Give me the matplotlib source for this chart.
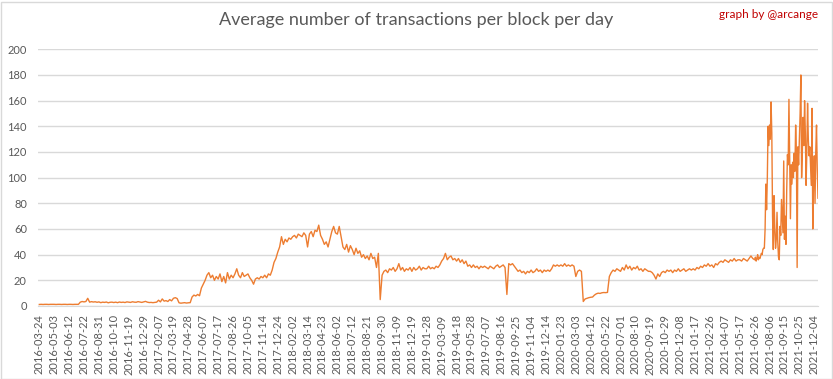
import numpy as np
import matplotlib
matplotlib.use("Agg")
import matplotlib.pyplot as plt
from matplotlib.patches import Rectangle

# valores cada 5 dias desde 2016-03-24 (una fila = 40 dias)
every5 = [
    1.2, 1.3, 1.2, 1.3, 1.3, 1.2, 1.3, 1.3,
    1.3, 1.2, 1.3, 1.3, 1.2, 1.3, 1.3, 1.2,
    1.3, 1.3, 1.2, 1.3, 1.3, 1.3, 3.0, 3.5,
    3.2, 3.5, 6.0, 3.0, 3.4, 3.1, 3.3, 2.9,
    3.2, 2.6, 3.0, 2.8, 3.1, 2.5, 2.9, 3.0,
    2.7, 3.0, 2.6, 3.1, 2.8, 3.0, 2.7, 3.2,
    3.0, 2.8, 3.3, 3.0, 2.9, 3.4, 3.1, 2.8,
    3.2, 3.6, 3.0, 2.7, 2.8, 2.6, 2.8, 3.0,
    4.5, 3.2, 5.5, 3.8, 4.2, 3.5, 5.0, 4.0,
    6.0, 6.5, 5.8, 2.5, 2.2, 2.4, 2.6, 2.3,
    2.5, 2.6, 7.0, 8.5, 7.8, 9.0, 8.0, 14.0,
    17, 20, 24, 26, 22, 24, 20, 23,
    21, 25, 19, 23, 18, 26, 21, 24,
    22, 25, 29, 24, 22, 26, 23, 24,
    25, 22, 20, 17, 21, 22, 21, 23,
    22, 24, 22, 25, 24, 28, 34, 37,
    42, 46, 54, 48, 52, 50, 53, 52,
    54, 55, 53, 56, 55, 54, 57, 55,
    46, 56, 58, 54, 59, 58, 63, 55,
    52, 48, 50, 46, 52, 58, 62, 57,
    56, 62, 54, 46, 44, 48, 42, 47,
    44, 40, 45, 41, 43, 38, 40, 37,
    39, 36, 41, 37, 38, 30, 41, 5,
    24, 27, 28, 26, 29, 28, 30, 27,
    29, 33, 28, 30, 27, 29, 28, 30,
    27, 30, 28, 29, 31, 28, 30, 29,
    29, 31, 29, 30, 29, 31, 30, 32,
    35, 37, 41, 36, 38, 39, 36, 37,
    35, 37, 34, 36, 33, 35, 31, 32,
    30, 32, 30, 31, 29, 31, 30, 31,
    30, 29, 31, 30, 29, 31, 32, 30,
    31, 32, 30, 9, 33, 32, 33, 31,
    29, 27, 28, 26, 27, 25, 27, 26,
    28, 26, 27, 29, 27, 28, 26, 28,
    27, 28, 27, 29, 32, 31, 32, 31,
    32, 31, 33, 31, 32, 31, 32, 31,
    23, 27, 28, 27, 3.5, 5.5, 6.0, 6.5,
    6.8, 7.0, 8.5, 9.5, 10.0, 9.8, 10.3, 10.5,
    10.4, 10.6, 23, 26, 28, 27, 29, 28,
    27, 30, 28, 32, 29, 31, 28, 30,
    29, 31, 28, 29, 27, 29, 28, 27,
    27, 26, 24, 21, 25, 23, 26, 27,
    26, 28, 27, 28, 26, 28, 27, 29,
    27, 28, 29, 27, 28, 29, 28, 29,
    28, 30, 29, 31, 30, 32, 31, 33,
    31, 32, 30, 33, 32, 34, 35, 34,
    36, 35, 34, 36, 35, 37, 35, 36,
    36, 35, 37, 36, 35, 37, 39, 37,
]

# desde 2021-06-26 los valores cada 2 dias
recent = [
    36, 38, 35, 37, 40, 36, 38, 37, 39, 41,
    40, 44, 45, 45, 60, 95, 75, 100, 140, 125,
    141, 130, 159, 135, 70, 44, 86, 60, 45, 52,
    73, 50, 38, 36, 62, 55, 83, 70, 57, 113,
    52, 70, 48, 90, 118, 110, 161, 117, 68, 110,
    95, 112, 100, 119, 105, 141, 120, 30, 124, 110,
    130, 150, 180, 100, 120, 147, 125, 160, 135, 94,
    120, 158, 130, 117, 124, 110, 94, 154, 60, 100,
    117, 80, 120, 141, 107, 84,
]

tick_labels = [
    "2016-03-24", "2016-05-03", "2016-06-12", "2016-07-22", "2016-08-31",
    "2016-10-10", "2016-11-19", "2016-12-29", "2017-02-07", "2017-03-19",
    "2017-04-28", "2017-06-07", "2017-07-17", "2017-08-26", "2017-10-05",
    "2017-11-14", "2017-12-24", "2018-02-02", "2018-03-14", "2018-04-23",
    "2018-06-02", "2018-07-12", "2018-08-21", "2018-09-30", "2018-11-09",
    "2018-12-19", "2019-01-28", "2019-03-09", "2019-04-18", "2019-05-28",
    "2019-07-07", "2019-08-16", "2019-09-25", "2019-11-04", "2019-12-14",
    "2020-01-23", "2020-03-03", "2020-04-12", "2020-05-22", "2020-07-01",
    "2020-08-10", "2020-09-19", "2020-10-29", "2020-12-08", "2021-01-17",
    "2021-02-26", "2021-04-07", "2021-05-17", "2021-06-26", "2021-08-06",
    "2021-09-15", "2021-10-25", "2021-12-04",
]

plt.rcParams["font.family"] = ["Lato", "DejaVu Sans"]
grey = "#595959"

x = np.concatenate([np.arange(len(every5)) * 5,
                    len(every5) * 5 + np.arange(len(recent)) * 2])
y = np.array(every5 + recent, dtype=float)

fig = plt.figure(figsize=(8.33, 3.79), dpi=100)
ax = fig.add_axes([38 / 833, 1 - 306 / 379, 780 / 833, (306 - 49.3) / 379])

ax.plot(x, y, color="#ED7D31", linewidth=1.0)

ax.set_ylim(0, 200)
ax.set_yticks(range(0, 201, 20))
ax.set_xlim(-3.5, 2090)
ax.set_xticks(np.arange(len(tick_labels)) * 40)
ax.set_xticklabels(tick_labels, rotation=90)
ax.tick_params(axis="both", length=0, labelsize=8, colors=grey)
ax.tick_params(axis="y", pad=8)
ax.tick_params(axis="x", pad=6)

ax.grid(axis="y", color="#D9D9D9", linewidth=1)
ax.set_axisbelow(True)
for s in ["top", "right", "left"]:
    ax.spines[s].set_visible(False)
ax.spines["bottom"].set_color("#D9D9D9")

fig.text(0.5, 1 - 20 / 379, "Average number of transactions per block per day",
         ha="center", va="center", fontsize=13, color=grey)
fig.text(818 / 833, 1 - 15 / 379, "graph by @arcange", ha="right", va="center",
         fontsize=8.5, color="#C00000")

# borde del grafico
fig.patches.append(Rectangle((0.5 / 833, 0.5 / 379), 831 / 833, 377 / 379,
                             transform=fig.transFigure, fill=False,
                             edgecolor="#D9D9D9", linewidth=1))

plt.savefig("out.png", dpi=100)
plt.close()
